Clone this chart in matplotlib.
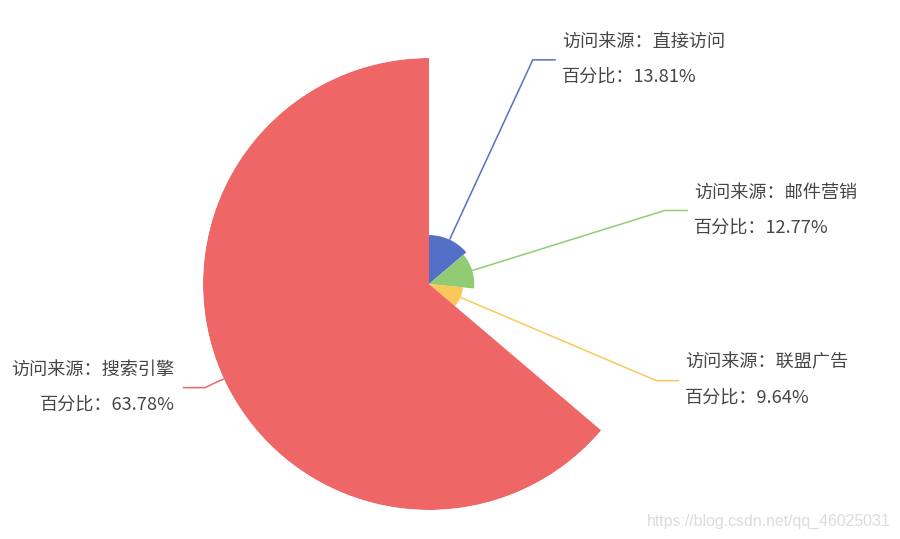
import numpy as np
import matplotlib
matplotlib.use("Agg")
import matplotlib.pyplot as plt

plt.rcParams['font.family'] = ['Noto Sans CJK SC', 'DejaVu Sans']

# data (ECharts rose pie, roseType 'radius')
names = ['直接访问', '邮件营销', '联盟广告', '搜索引擎']
values = [335, 310, 234, 1548]
colors = ['#5470c6', '#91cc75', '#fac858', '#ee6666']

W, H = 900, 539
fig = plt.figure(figsize=(W / 100, H / 100), dpi=100)

# polar axes placed so the centre sits at (429, 284) px with radius 226 px
cx, cy, R = 429, 284, 226
ax = fig.add_axes([(cx - R) / W, (H - cy - R) / H, 2 * R / W, 2 * R / H],
                  projection='polar')
ax.set_theta_offset(np.pi / 2)
ax.set_theta_direction(-1)
ax.set_ylim(0, max(values))
ax.axis('off')

total = sum(values)
widths = np.array(values) / total * 2 * np.pi
starts = np.concatenate([[0], np.cumsum(widths)[:-1]])
mids = starts + widths / 2
ax.bar(starts, values, width=widths, bottom=0, align='edge',
       color=colors, linewidth=0)

# percentages with largest-remainder rounding, like echarts
raw = np.array(values) / total * 10000
pct = np.floor(raw)
left = int(10000 - pct.sum())
for i in np.argsort(-(raw - pct))[:left]:
    pct[i] += 1
pct = pct / 100

# overlay in pixel coords for label lines and texts
ov = fig.add_axes([0, 0, 1, 1])
ov.set_xlim(0, W)
ov.set_ylim(H, 0)
ov.axis('off')
ov.patch.set_alpha(0)

fig.canvas.draw()


def to_px(theta, r):
    x, y = ax.transData.transform((theta, r))
    return x, H - y


label_r = max(values) * 247 / 226
for name, v, m, c, p in zip(names, values, mids, colors, pct):
    x0, y0 = to_px(m, v)
    x1, y1 = to_px(m, label_r)
    right = np.sin(m) >= 0
    x2 = x1 + 23 if right else x1 - 22
    ov.plot([x0, x1, x2], [y0, y1, y1], color=c, lw=1.1, solid_capstyle='butt')
    tx = x2 + 6 if right else x2 - 8
    ha = 'left' if right else 'right'
    ov.text(tx, y1 - 18, f'访问来源：{name}', ha=ha, va='center',
            fontsize=13.1, color='#464646')
    ov.text(tx, y1 + 17, f'百分比：{p:.2f}%', ha=ha, va='center',
            fontsize=13.1, color='#464646')

ov.text(891, 521, 'https://blog.csdn.net/qq_46025031', ha='right', va='center',
        fontsize=11.4, color='#dcdcdc', family=['Liberation Sans', 'DejaVu Sans'])

fig.savefig('out.png', dpi=100, facecolor='white')
